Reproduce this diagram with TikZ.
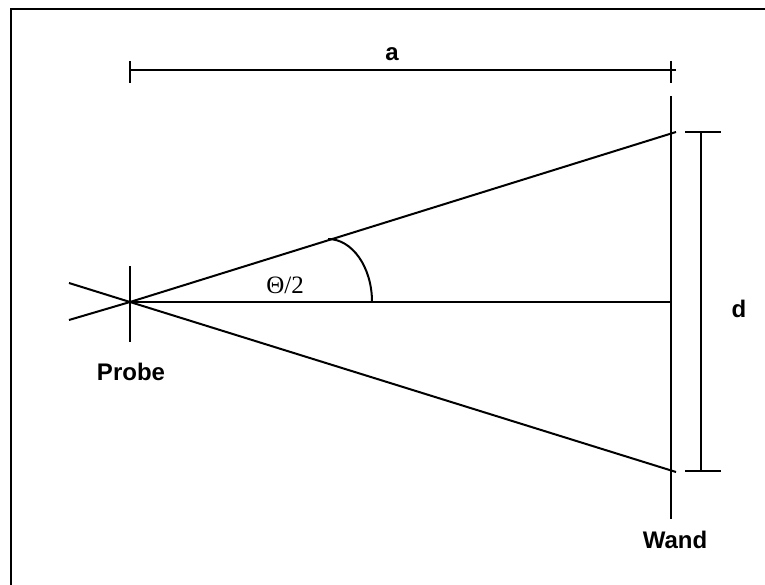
\documentclass[tikz,border=0pt]{standalone}
\usepackage{fontspec}
\setmainfont{Liberation Sans}
\newfontfamily\serifgreek{Liberation Serif}
\begin{document}
\begin{tikzpicture}[x=1pt,y=-1pt,
  ln/.style={line width=2pt,line cap=butt},
  lbl/.style={inner sep=0pt,anchor=base,font=\fontsize{24}{28}\selectfont\bfseries},
  glbl/.style={inner sep=0pt,anchor=base,font=\fontsize{25}{28}\selectfont\serifgreek}]
\useasboundingbox (0,0) rectangle (765,585);
% frame (left and top edges visible)
\draw[ln] (11,585) -- (11,9) -- (765,9);
% key points
\coordinate (P) at (130,302);
\coordinate (U) at (676,132);
\coordinate (L) at (676,472);
\coordinate (M) at (671,302);
\coordinate (XU) at (69,283);
\coordinate (XL) at (69,320);
\coordinate (PT) at (130,266);
\coordinate (PB) at (130,342);
\coordinate (WT) at (671,96);
\coordinate (WB) at (671,519);
% top dimension a
\coordinate (A1) at (130,70);
\coordinate (A2) at (676,70);
\draw[ln] (A1) -- (A2);
\draw[ln] (130,61) -- (130,83);
\draw[ln] (671,61) -- (671,83);
% d dimension
\coordinate (D1) at (701,132);
\coordinate (D2) at (701,472);
\draw[ln] (D1) -- (D2);
\draw[ln] (685,132) -- (721,132);
\draw[ln] (685,471) -- (721,471);
% rays
\draw[ln] (XL) -- (P) -- (U);
\draw[ln] (XU) -- (P) -- (L);
\draw[ln] (P) -- (M);
% probe and wand
\draw[ln] (PT) -- (PB);
\draw[ln] (WT) -- (WB);
% angle arc
\draw[ln] (372,302) arc[start angle=0,end angle=-90,x radius=44,y radius=63];
% labels
\node[lbl] (la) at (392,61) {a};
\node[lbl] (ld) at (739,317) {d};
\node[lbl] (lp) at (131,380) {Probe};
\node[lbl] (lw) at (675,548) {Wand};
\node[glbl] (lt) at (285,293) {Θ/2};
\end{tikzpicture}
\end{document}
